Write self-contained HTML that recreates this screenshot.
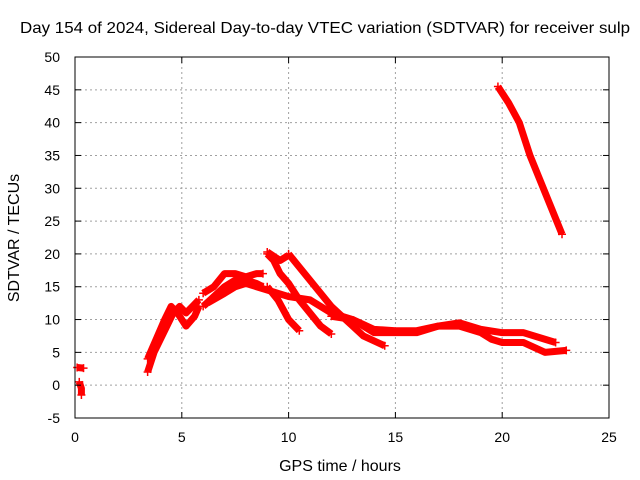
<!DOCTYPE html>
<html><head><meta charset="utf-8"><style>
body{margin:0;background:#fff;}
svg{display:block;font-family:"Liberation Sans",sans-serif;}
</style></head><body>
<svg id="chart" width="640" height="480">
<rect width="640" height="480" fill="#fff"/>
<text x="325" y="33" font-size="16" text-anchor="middle" textLength="610" lengthAdjust="spacingAndGlyphs">Day 154 of 2024, Sidereal Day-to-day VTEC variation (SDTVAR) for receiver sulp</text>
<text x="340" y="471" font-size="16" text-anchor="middle">GPS time / hours</text>
<text transform="translate(19,238) rotate(-90)" font-size="16" text-anchor="middle">SDTVAR / TECUs</text>
<g id="grid"></g><g id="marks"></g><g id="axes"></g>
</svg>
<script>
const xTicks=[0,5,10,15,20,25];
const yTicks=[-5,0,5,10,15,20,25,30,35,40,45,50];
const trackA=[[0.1,2.7],[0.4,2.6]];
const trackA2=[[0.2,0.5],[0.3,-0.5],[0.3,-1.5]];
const trackB=[[3.4,2],[3.7,5],[4.0,7],[4.3,9],[4.6,11],[4.9,12],[5.2,11],[5.5,12],[5.8,13]];
const trackB2=[[3.4,4],[3.8,7],[4.2,10],[4.5,12],[4.8,11],[5.2,9],[5.6,10.5],[5.8,12]];
const trackC=[[6.0,12],[6.5,13.5],[7.0,15],[7.5,16],[8.0,16],[8.5,15.5],[8.8,15]];
const trackC2=[[6.0,14],[6.5,15],[7.0,17],[7.5,17],[8.0,16.5],[8.5,17],[8.8,17]];
const trackC3=[[6.2,12.5],[7.0,14],[7.5,15],[8.0,15.5],[8.5,15],[9.0,14.5],[9.5,14],[10.0,13.5],[11,13],[12,11],[13,10],[14,8.5],[15,8.3],[16,8.3],[17,9],[18,9.5],[19,8.5],[20,8],[21,8],[22,7],[22.5,6.5]];
const trackD=[[9.0,20],[9.3,19],[9.6,17],[10,15.5],[10.5,13],[11,11],[11.5,9],[12,7.8]];
const trackD2=[[9.0,15],[9.5,13],[10,10],[10.5,8.3]];
const trackD3=[[9.0,20.3],[9.6,19],[10,19.8]];
const trackE=[[10,20],[10.5,18],[11,16],[11.5,14],[12,12],[12.5,10.5],[13,9],[13.5,7.5],[14.5,6]];
const trackF=[[12,10.5],[13,10],[14,8],[15,8],[16,8],[17,9],[18,9],[19,8],[19.5,7],[20,6.5],[21,6.5],[22,5],[23,5.3]];
const trackG=[[19.8,45.5],[20.3,43],[20.8,40],[21.3,35],[21.8,31],[22.3,27],[22.8,23]];
const tracks=[trackA,trackA2,trackB,trackB2,trackC,trackC2,trackC3,trackD,trackD2,trackD3,trackE,trackF,trackG];
const X0=75,X1=609,Y0=418,Y1=57;
const sx=v=>X0+(v-0)/(25-0)*(X1-X0);
const sy=v=>Y0-(v+5)/(55)*(Y0-Y1);
const NS='http://www.w3.org/2000/svg';
function mk(t,a,p){const e=document.createElementNS(NS,t);for(const k in a)e.setAttribute(k,a[k]);p.appendChild(e);return e;}
const grid=document.getElementById('grid'),marks=document.getElementById('marks'),axes=document.getElementById('axes');
xTicks.forEach(t=>{const x=sx(t);
 if(t>0&&t<25){const g=mk('line',{x1:x,x2:x,y1:Y1,y2:Y0,stroke:'#a0a0a0','stroke-dasharray':'2,3'},grid);}
 mk('line',{x1:x,x2:x,y1:Y0,y2:Y0-6,stroke:'#000'},axes);mk('line',{x1:x,x2:x,y1:Y1,y2:Y1+6,stroke:'#000'},axes);
 const l=mk('text',{x:x,y:Y0+24,'font-size':14,'text-anchor':'middle'},axes);l.textContent=t;
 });
yTicks.forEach(t=>{const y=sy(t);
 if(t>-5&&t<50){const g=mk('line',{x1:X0,x2:X1,y1:y,y2:y,stroke:'#a0a0a0','stroke-dasharray':'2,3'},grid);}
 mk('line',{x1:X0,x2:X0+6,y1:y,y2:y,stroke:'#000'},axes);mk('line',{x1:X1,x2:X1-6,y1:y,y2:y,stroke:'#000'},axes);
 const l=mk('text',{x:X0-15,y:y+5,'font-size':14,'text-anchor':'end'},axes);l.textContent=t;
 });
const fr=mk('rect',{x:X0,y:Y1,width:X1-X0,height:Y0-Y1,fill:'none',stroke:'#000'},axes);

tracks.forEach(tr=>{
 const pl=mk('polyline',{points:tr.map(p=>sx(p[0])+','+sy(p[1])).join(' '),fill:'none',stroke:'#f00','stroke-width':7,'stroke-linejoin':'round'},marks);
 
 [tr[0],tr[tr.length-1]].forEach(p=>{const x=sx(p[0]),y=sy(p[1]);
  const m=mk('path',{d:`M${x-4},${y}H${x+4}M${x},${y-4}V${y+4}`,stroke:'#f00','stroke-width':1.5},marks);
  });
});
</script>
</body></html>
